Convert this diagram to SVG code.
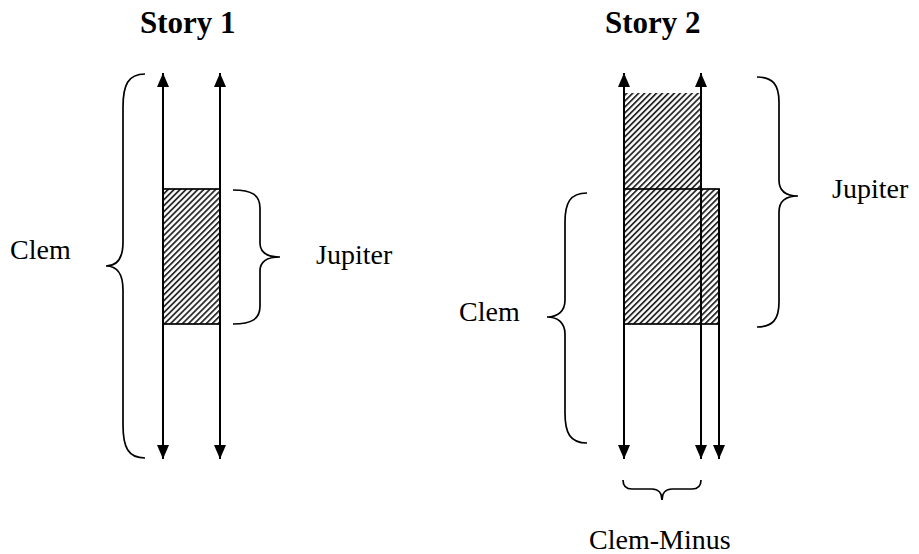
<svg xmlns="http://www.w3.org/2000/svg" width="919" height="554" viewBox="0 0 919 554">
  <style>
    .title { font-family: "Liberation Serif", "Times New Roman", serif; font-weight: bold; font-size: 31px; fill: #000; }
    .label { font-family: "Liberation Serif", "Times New Roman", serif; font-size: 28px; fill: #000; }
    .axis { stroke: #000; stroke-width: 2; fill: none; }
    .brace { stroke: #000; stroke-width: 1.7; fill: none; }
    .span { fill: url(#hatch); stroke: #000; stroke-width: 1.7; }
    .span-open { fill: url(#hatch); stroke: none; }
  </style>
  <defs>
    <pattern id="hatch" width="4.2" height="4.2" patternUnits="userSpaceOnUse" patternTransform="rotate(45)">
      <rect width="4.2" height="4.2" fill="#fff"/>
      <rect x="0" y="0" width="1.8" height="4.2" fill="#2a2a2a"/>
    </pattern>
    <marker id="head" viewBox="0 0 14 12" refX="14" refY="6" markerWidth="14" markerHeight="12" markerUnits="userSpaceOnUse" orient="auto">
      <path d="M0,0 L14,6 L0,12 Z" fill="#000"/>
    </marker>
  </defs>
  <rect width="919" height="554" fill="#fff"/>

  <!-- titles -->
  <g id="title1"><text class="title" x="140" y="33">Story 1</text></g>
  <g id="title2"><text class="title" x="605" y="33">Story 2</text></g>

  <!-- Story 1 -->
  <g id="s1-jupiter-span"><rect class="span" x="163" y="189" width="57" height="135"/></g>
  <g id="s1-clem-brace">
    <path class="brace" d="M145,74 C128,74 123,85 123,107 L123,242 C123,259 116,266 106,266 C116,266 123,273 123,290 L123,425 C123,447 128,458 145,458"/>
    <text class="label" x="10" y="259">Clem</text>
  </g>
  <g id="s1-jupiter-brace">
    <path class="brace" d="M233,190 C252,190 260,195 260,208 L260,243 C260,252 267,257 280,257 C267,257 260,262 260,271 L260,306 C260,319 252,324 233,324"/>
    <text class="label" x="316" y="264">Jupiter</text>
  </g>

  <!-- Story 2 -->
  <g id="s2-jupiter-span"><rect class="span-open" x="624" y="93" width="77" height="96"/></g>
  <g id="s2-overlap-span"><rect class="span" x="624" y="189" width="95" height="135"/></g>
  <g id="s2-clem-brace">
    <path class="brace" d="M587,193 C570,193 565,203 565,222 L565,300 C565,311 558,317 547,317 C558,317 565,323 565,334 L565,413 C565,433 570,443 587,443"/>
    <text class="label" x="459" y="321">Clem</text>
  </g>
  <g id="s2-jupiter-brace">
    <path class="brace" d="M757,77 C773,77 779,85 779,102 L779,180 C779,191 786,196 798,196 C786,196 779,201 779,212 L779,302 C779,319 773,327 757,327"/>
    <text class="label" x="832" y="198">Jupiter</text>
  </g>
  <g id="s2-clem-minus-brace">
    <path class="brace" d="M623,480 C623,486 626,489 632,489 L652,489 C658,489 662,493 662,500 C662,493 666,489 672,489 L692,489 C698,489 701,486 701,480"/>
    <text class="label" x="589" y="549">Clem-Minus</text>
  </g>

  <!-- time axes -->
  <g id="connectors">
    <line class="axis" x1="163" y1="266" x2="163" y2="73" marker-end="url(#head)"/>
    <line class="axis" x1="163" y1="266" x2="163" y2="459" marker-end="url(#head)"/>
    <line class="axis" x1="220" y1="266" x2="220" y2="73" marker-end="url(#head)"/>
    <line class="axis" x1="220" y1="266" x2="220" y2="459" marker-end="url(#head)"/>
    <line class="axis" x1="624" y1="266" x2="624" y2="73" marker-end="url(#head)"/>
    <line class="axis" x1="624" y1="266" x2="624" y2="459" marker-end="url(#head)"/>
    <line class="axis" x1="701" y1="266" x2="701" y2="73" marker-end="url(#head)"/>
    <line class="axis" x1="701" y1="266" x2="701" y2="459" marker-end="url(#head)"/>
    <line class="axis" x1="719" y1="189" x2="719" y2="459" marker-end="url(#head)"/>
  </g>
</svg>
